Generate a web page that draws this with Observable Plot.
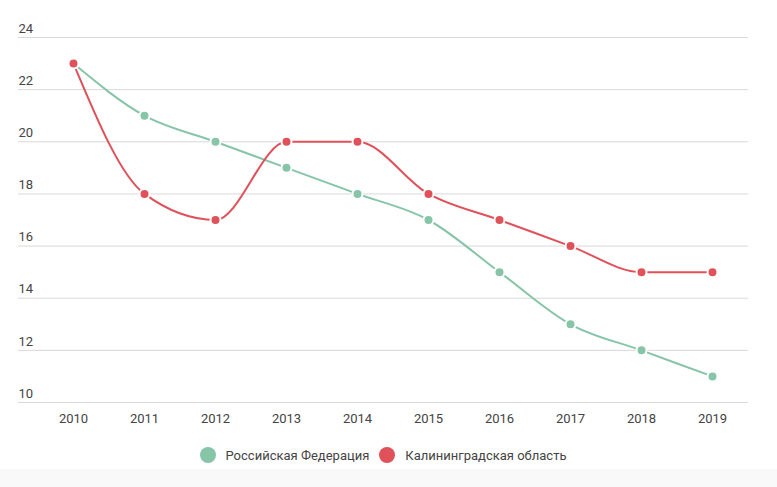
<!DOCTYPE html>
<html>
<head>
<meta charset="utf-8">
<script src="https://cdn.jsdelivr.net/npm/d3@7"></script>
<script src="https://cdn.jsdelivr.net/npm/@observablehq/plot@0.6"></script>
<style>
  html, body { margin: 0; padding: 0; background: #f9f9f9; }
  #wrap { width: 777px; height: 469px; background: #fff; font-family: Roboto, sans-serif; }
  #legend { display: flex; justify-content: center; align-items: center; height: 39px; padding-top: 11px; box-sizing: border-box; padding-right: 11px; font-size: 13px; color: #444; }
  .item { display: flex; align-items: center; margin: 0 5px; }
  .sw { width: 16px; height: 16px; border-radius: 50%; margin-right: 10px; }
  svg { display: block; }
</style>
</head>
<body>
<div id="wrap">
  <div id="chart"></div>
  <div id="legend"></div>
</div>
<script>
const years = [2010, 2011, 2012, 2013, 2014, 2015, 2016, 2017, 2018, 2019];
const russia = [23, 21, 20, 19, 18, 17, 15, 13, 12, 11];
const kaliningrad = [23, 18, 17, 20, 20, 18, 17, 16, 15, 15];
const seriesNames = ["Российская Федерация", "Калининградская область"];
const seriesColors = ["#86c5a7", "#e0515a"];
const yTicks = [10, 12, 14, 16, 18, 20, 22, 24];

const data = [
  ...years.map((y, i) => ({year: y, value: russia[i], series: seriesNames[0]})),
  ...years.map((y, i) => ({year: y, value: kaliningrad[i], series: seriesNames[1]}))
];

const chart = Plot.plot({
  width: 777,
  height: 430,
  marginTop: 37,
  marginBottom: 28,
  marginLeft: 18,
  marginRight: 29,
  style: {fontFamily: "Roboto, sans-serif", fontSize: "13px", color: "#444", background: "#fff"},
  x: {type: "point", domain: years, range: [73, 712], padding: 0, axis: null},
  y: {domain: [10, 24], axis: null},
  color: {domain: seriesNames, range: seriesColors},
  marks: [
    Plot.ruleY(yTicks, {stroke: "#d9d9d9", strokeWidth: 1}),
    Plot.text(yTicks, {y: d => d, frameAnchor: "left", textAnchor: "start", dy: -9, fill: "#444", fontSize: 13}),
    Plot.axisX({tickSize: 0, tickPadding: 11, tickFormat: d => String(d), fill: "#444", fontSize: 13, label: null}),
    Plot.line(data.filter(d => d.series === seriesNames[0]), {x: "year", y: "value", stroke: "series", strokeWidth: 2, curve: "monotone-x"}),
    Plot.line(data.filter(d => d.series === seriesNames[1]), {x: "year", y: "value", stroke: "series", strokeWidth: 2, curve: "monotone-x"}),
    Plot.dot(data, {x: "year", y: "value", fill: "series", r: 5, stroke: "#fff", strokeWidth: 2})
  ]
});
document.getElementById("chart").appendChild(chart);

const legend = document.getElementById("legend");
seriesNames.forEach((n, i) => {
  const it = document.createElement("div");
  it.className = "item";
  const sw = document.createElement("span");
  sw.className = "sw";
  sw.style.background = seriesColors[i];
  const t = document.createElement("span");
  t.textContent = n;
  it.appendChild(sw); it.appendChild(t);
  legend.appendChild(it);
});
</script>
</body>
</html>
